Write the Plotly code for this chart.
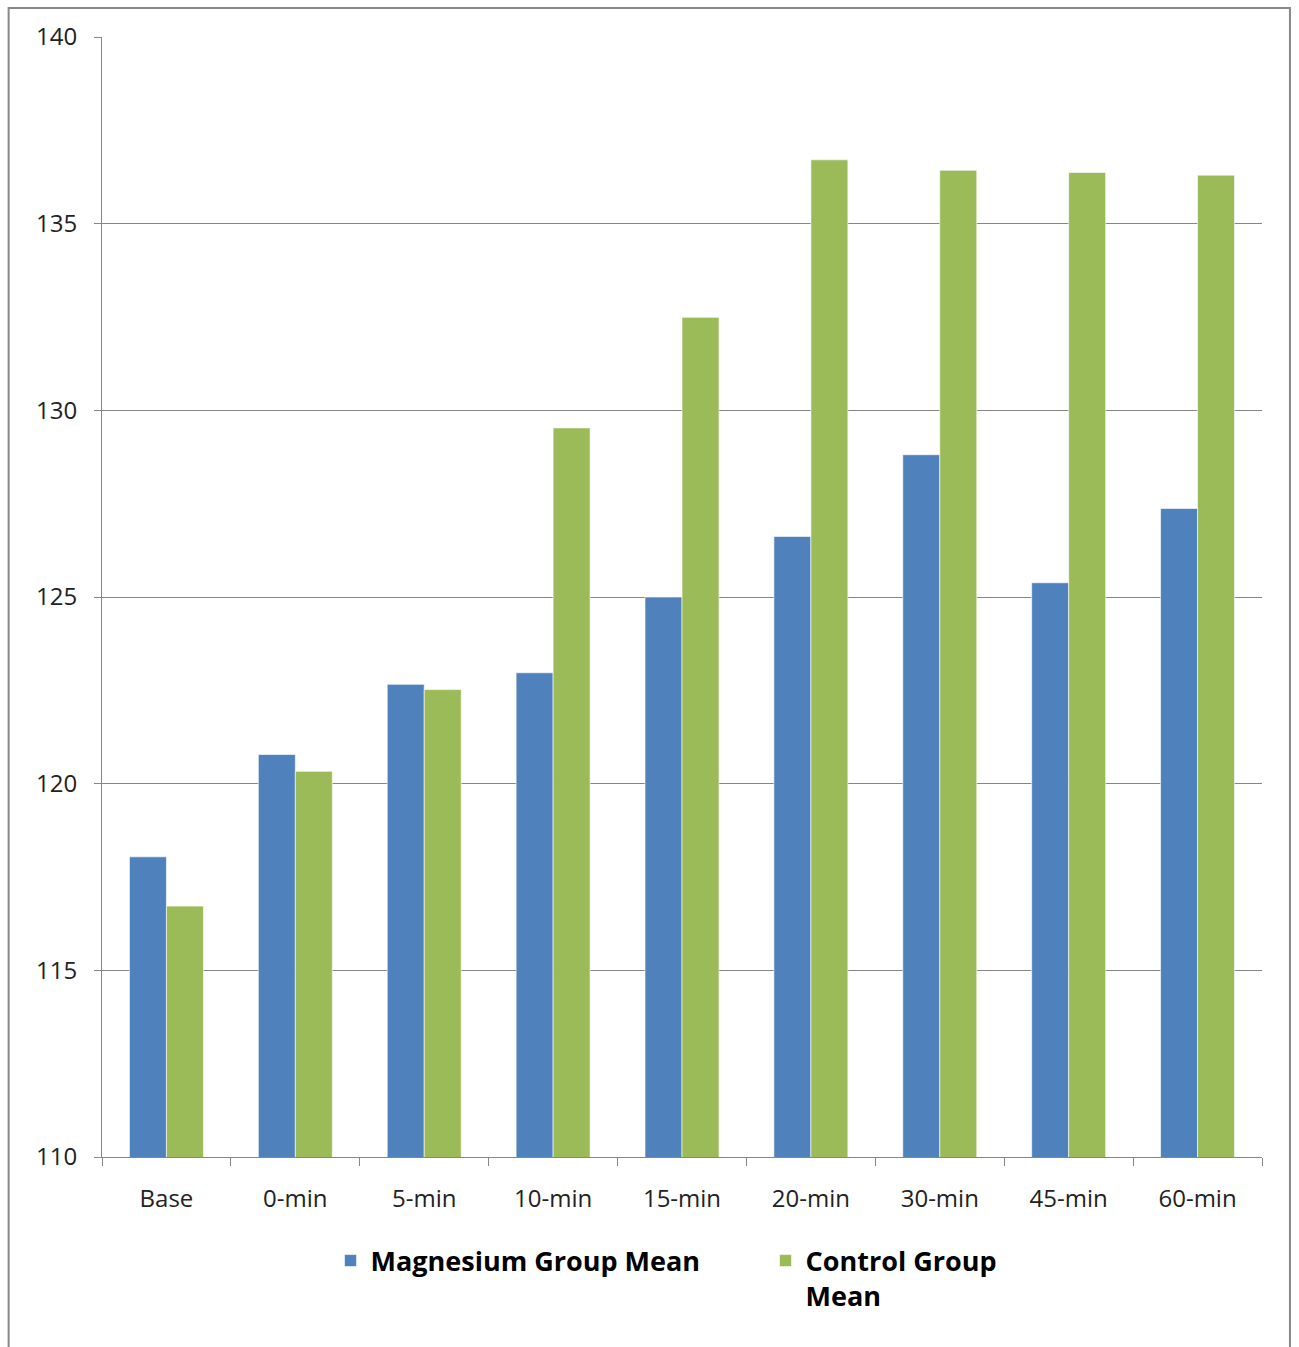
import plotly.graph_objects as go

categories = ["Base", "0-min", "5-min", "10-min", "15-min", "20-min", "30-min", "45-min", "60-min"]
magnesium_mean = [118.04, 120.78, 122.66, 122.97, 125.0, 126.62, 128.81, 125.38, 127.37]
control_mean = [116.72, 120.33, 122.52, 129.53, 132.49, 136.71, 136.43, 136.37, 136.30]
series_names = ["Magnesium Group Mean", "Control Group<br>Mean"]
y_ticks = [110, 115, 120, 125, 130, 135, 140]

FONT = "Open Sans"
GRID = "#868686"

fig = go.Figure()
fig.add_trace(go.Bar(
    x=categories, y=magnesium_mean, name=series_names[0],
    marker=dict(color="#4F81BD", line=dict(color="rgba(255,255,255,0.6)", width=1)),
))
fig.add_trace(go.Bar(
    x=categories, y=control_mean, name=series_names[1],
    marker=dict(color="#9BBB59", line=dict(color="rgba(255,255,255,0.6)", width=1)),
))

fig.update_layout(
    width=1299, height=1347,
    margin=dict(l=102, r=37, t=37, b=190, autoexpand=False),
    paper_bgcolor="white", plot_bgcolor="white",
    barmode="group", bargap=0.426, bargroupgap=0,
    font=dict(family=FONT, size=24, color="#000000"),
    showlegend=True,
    legend=dict(
        orientation="h", x=0.197, xanchor="left", y=-0.071, yanchor="top",
        font=dict(family=FONT, size=27, color="#000000", weight="bold"),
        bgcolor="rgba(0,0,0,0)",
        itemwidth=30, entrywidth=390, entrywidthmode="pixels",
        traceorder="normal", valign="top",
    ),
    shapes=[dict(
        type="rect", xref="paper", yref="paper",
        x0=-0.0805, x1=1.0241, y0=-0.2, y1=1.0259,
        line=dict(color="#888888", width=2), fillcolor="rgba(0,0,0,0)", layer="below",
    )],
)

fig.update_xaxes(
    type="category", tickson="boundaries", ticks="outside", ticklen=8, tickcolor=GRID,
    showline=True, linecolor=GRID, linewidth=1, showgrid=False,
    tickfont=dict(family=FONT, size=24, color="#222222"), ticklabelstandoff=20,
)
fig.update_yaxes(
    range=[110, 140], tickvals=y_ticks, ticks="outside", ticklen=7, tickcolor=GRID,
    showline=True, linecolor=GRID, linewidth=1,
    showgrid=True, gridcolor=GRID, gridwidth=1, zeroline=False,
    tickfont=dict(family=FONT, size=24, color="#222222"), ticklabelstandoff=12,
)

fig.write_html("out.html")
